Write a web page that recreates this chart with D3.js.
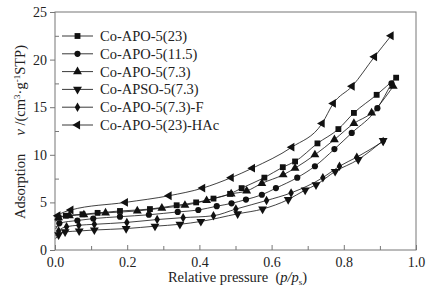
<!DOCTYPE html>
<html>
<head>
<meta charset="utf-8">
<script src="https://cdn.jsdelivr.net/npm/d3@7"></script>
<style>
  html, body { margin: 0; padding: 0; background: #fff; }
  svg text { font-family: "Liberation Serif", "Times New Roman", serif; fill: #222; }
</style>
</head>
<body>
<div id="chart"></div>
<script>
// series names (legend order)
const seriesNames = [
  'Co-APO-5(23)',
  'Co-APO-5(11.5)',
  'Co-APO-5(7.3)',
  'Co-APSO-5(7.3)',
  'Co-APO-5(7.3)-F',
  'Co-APO-5(23)-HAc'
];

// [p/p0, adsorption]
const apo23 = [[0.002,3.1],[0.01,3.4],[0.03,3.6],[0.076,3.75],[0.118,3.9],[0.18,4.1],[0.263,4.3],[0.337,4.7],
  [0.391,5.0],[0.439,5.4],[0.485,5.9],[0.517,6.5],[0.58,7.6],[0.631,8.7],[0.665,9.3],[0.727,11.2],
  [0.785,12.7],[0.828,14.4],[0.891,16.3],[0.945,18.1]];
const apo115 = [[0.002,2.2],[0.012,2.8],[0.062,3.1],[0.106,3.3],[0.18,3.5],[0.26,3.7],[0.34,4.0],[0.397,4.2],
  [0.448,4.6],[0.489,4.9],[0.529,5.3],[0.573,5.8],[0.612,6.5],[0.671,7.6],[0.72,8.8],[0.774,10.6],
  [0.822,12.3],[0.893,14.9],[0.932,17.5]];
const apo73 = [[0.002,3.0],[0.01,3.4],[0.04,3.6],[0.08,3.7],[0.14,3.9],[0.228,4.1],[0.296,4.4],[0.36,4.7],
  [0.42,5.2],[0.488,5.9],[0.531,6.2],[0.573,7.0],[0.632,7.9],[0.665,8.6],[0.72,10.0],[0.774,11.6],
  [0.828,13.3],[0.877,14.4],[0.937,17.2]];
const apso73 = [[0.002,1.2],[0.01,1.6],[0.028,1.9],[0.067,2.0],[0.109,2.1],[0.197,2.25],[0.277,2.5],[0.346,2.7],
  [0.404,3.0],[0.506,3.8],[0.575,4.3],[0.646,5.3],[0.693,6.3],[0.723,6.85],[0.776,8.25],[0.84,9.5],[0.909,11.5]];
const apo73F = [[0.002,1.5],[0.01,2.0],[0.032,2.45],[0.066,2.6],[0.109,2.7],[0.199,2.9],[0.283,3.2],[0.355,3.4],
  [0.439,3.6],[0.501,4.3],[0.586,5.2],[0.654,6.0],[0.742,7.6],[0.788,8.8],[0.836,9.75],[0.909,11.4]];
const apo23HAc = [[0.002,3.2],[0.008,3.6],[0.044,4.2],[0.195,5.0],[0.316,5.7],[0.409,6.5],[0.488,7.6],
  [0.547,8.6],[0.656,10.8],[0.74,13.3],[0.771,15.4],[0.823,17.2],[0.885,20.3],[0.931,22.5]];

const seriesData = [apo23, apo115, apo73, apso73, apo73F, apo23HAc];

// tick values
const xTicks = [0, 0.2, 0.4, 0.6, 0.8, 1.0];
const xMinor = [0.1, 0.3, 0.5, 0.7, 0.9];
const yTicks = [0, 5, 10, 15, 20, 25];
const yMinor = [2.5, 7.5, 12.5, 17.5, 22.5];

const width = 430, height = 294;
const margin = { top: 12, right: 14, bottom: 44, left: 55 };
const iw = width - margin.left - margin.right;
const ih = height - margin.top - margin.bottom;

const svg = d3.select('#chart').append('svg')
  .attr('width', width)
  .attr('height', height);

svg.append('rect').attr('width', width).attr('height', height).attr('fill', '#fff');

const g = svg.append('g')
  .attr('transform', `translate(${margin.left},${margin.top})`);

const x = d3.scaleLinear().domain([0, 1]).range([0, iw]);
const y = d3.scaleLinear().domain([0, 25]).range([ih, 0]);

const axisColor = '#777';

// frame
g.append('rect')
  .attr('width', iw).attr('height', ih)
  .attr('fill', 'none').attr('stroke', axisColor).attr('stroke-width', 1);

// x axis: ticks point inward
const xAxis = g.append('g')
  .attr('transform', `translate(0,${ih})`)
  .call(d3.axisBottom(x).tickValues(xTicks).tickSize(-5).tickPadding(7)
    .tickFormat(d3.format('.1f')));
xAxis.append('g')
  .call(d3.axisBottom(x).tickValues(xMinor).tickSize(-4).tickFormat(''));

// y axis: major outward, minor inward
const yAxis = g.append('g')
  .call(d3.axisLeft(y).tickValues(yTicks).tickSize(5).tickPadding(3)
    .tickFormat(d3.format('d')));
yAxis.append('g')
  .call(d3.axisRight(y).tickValues(yMinor).tickSize(4).tickFormat(''));

g.selectAll('.domain').remove();
g.selectAll('.tick line').attr('stroke', axisColor);
g.selectAll('.tick text').attr('font-size', '14px').attr('fill', '#222');

// symbols
const tri = d3.symbol().type(d3.symbolTriangle).size(34)();
const markers = [
  { path: d3.symbol().type(d3.symbolSquare).size(34)(), rot: 0 },
  { path: d3.symbol().type(d3.symbolCircle).size(30)(), rot: 0 },
  { path: tri, rot: 0 },
  { path: tri, rot: 180 },
  { path: d3.symbol().type(d3.symbolDiamond).size(26)(), rot: 0 },
  { path: tri, rot: -90 }
];

const line = d3.line()
  .x(d => x(d[0]))
  .y(d => y(d[1]))
  .curve(d3.curveMonotoneX);

const plot = g.append('g');

seriesData.forEach((data, i) => {
  plot.append('path')
    .datum(data)
    .attr('fill', 'none')
    .attr('stroke', '#111')
    .attr('stroke-width', 0.8)
    .attr('d', line);

  // skip the very first near-zero points, they sit under the steep rise
  plot.selectAll(null)
    .data(data.filter(d => d[0] > 0.005))
    .enter().append('path')
      .attr('d', markers[i].path)
      .attr('transform', d => `translate(${x(d[0])},${y(d[1])}) rotate(${markers[i].rot})`)
      .attr('fill', '#111');
});

// legend
const legend = g.append('g').attr('transform', 'translate(7,24)');
seriesNames.forEach((name, i) => {
  const row = legend.append('g').attr('transform', `translate(0,${i * 17.8})`);
  row.append('line')
    .attr('x1', 0).attr('x2', 31).attr('y1', 0).attr('y2', 0)
    .attr('stroke', '#222').attr('stroke-width', 0.9);
  row.append('path')
    .attr('d', markers[i].path)
    .attr('transform', `translate(15.5,0) rotate(${markers[i].rot})`)
    .attr('fill', '#111');
  row.append('text')
    .attr('x', 38).attr('y', 0).attr('dy', '0.35em')
    .attr('font-size', '14.5px')
    .text(name);
});

// y title (rotated)
const yt = svg.append('text')
  .attr('transform', 'translate(25,132) rotate(-90)')
  .attr('text-anchor', 'middle')
  .attr('font-size', '14.5px');
yt.append('tspan').text('Adsorption\u2003 ');
yt.append('tspan').attr('font-style', 'italic').text('v');
yt.append('tspan').text(' /(cm');
yt.append('tspan').attr('font-size', '9px').attr('dy', '-5').text('3');
yt.append('tspan').attr('dy', '5').text('\u00b7g');
yt.append('tspan').attr('font-size', '9px').attr('dy', '-5').text('-1');
yt.append('tspan').attr('dy', '5').text('STP)');

// x title
const xt = svg.append('text')
  .attr('x', margin.left + iw / 2 + 2)
  .attr('y', 282)
  .attr('text-anchor', 'middle')
  .attr('font-size', '14.5px');
xt.append('tspan').text('Relative pressure\u2002(');
xt.append('tspan').attr('font-style', 'italic').text('p/p');
xt.append('tspan').attr('font-size', '9px').attr('dy', '3').text('s');
xt.append('tspan').attr('dy', '-3').text(')');
</script>
</body>
</html>
